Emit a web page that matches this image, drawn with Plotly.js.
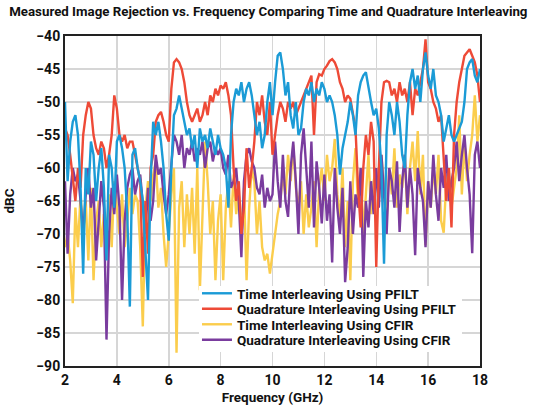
<!DOCTYPE html>
<html>
<head>
<meta charset="utf-8">
<script src="https://cdn.plot.ly/plotly-3.0.1.min.js"></script>
<style>html,body{margin:0;padding:0;background:#fff;}#chart{width:540px;height:408px;}</style>
</head>
<body>
<div id="chart"></div>
<script>
// Frequency axis: 2.0 to 18.0 GHz in 0.1 GHz steps
const freqStart = 2.0;
const freqStep = 0.1;

const timePFILT = [
-50,-62,-56,-53,-52,-55,-63,-76,-60,-64,
-56,-58,-65,-60,-57,-63,-74,-58,-60,-66,
-56,-55,-57,-60,-67,-81,-58,-57,-60,-62,
-65,-72,-80,-62,-53,-55,-53,-56,-60,-67,
-71,-60,-52,-51,-49,-51,-53,-55,-54,-57,
-55,-60,-54,-56,-55,-57,-54,-56,-58,-55,
-57,-58,-60,-66,-55,-50,-48,-49,-47,-50,
-48,-47,-49,-52,-55,-53,-57,-55,-50,-47,
-52,-47,-43,-42.5,-45,-49,-47,-52,-54,-50,
-55,-54,-50,-48,-49,-47,-50,-48,-49,-47,
-48,-50,-49,-50,-52,-55,-61,-57,-55,-53,
-50,-52,-55,-49,-47,-46,-45.5,-48,-50,-52,
-51,-54,-60,-74.5,-55,-50,-52,-55,-50,-53,
-58,-60,-52,-47,-45,-48,-46,-50,-45,-42.5,
-46,-48,-45,-49,-50,-52,-56,-54,-52,-55,
-56,-55,-54,-53,-50,-45,-44,-43.5,-46,-47,
-45];

const quadPFILT = [
-54,-55,-58,-62,-65,-60,-63,-55,-52,-50,
-51,-55,-57,-58,-56,-57,-60,-58,-55,-49,
-51,-55,-56,-55,-57,-56,-56,-58,-60,-62,
-76.5,-65,-73,-60,-58,-53,-52,-51.5,-53,-55,
-56,-48,-44,-43.5,-44,-45,-47,-50,-52,-53,
-52,-51,-53,-52,-50,-52,-49,-50,-48,-49,
-47.5,-48,-47,-49,-52,-60,-65,-62,-70,-66,
-57,-63,-60,-56,-50,-52,-49,-53,-55,-50,
-58,-55,-52,-50,-51,-53,-50,-51,-50,-52,
-51,-50,-49,-48,-47,-46,-55,-47,-45.8,-46,
-45,-44.5,-43.8,-43.5,-44,-45,-47,-48,-50,-49,
-49.5,-52,-54,-63,-69,-60,-55,-58,-53,-56,
-75,-60,-50,-47,-46.8,-47,-49,-48,-50,-47,
-49,-48,-50,-47,-52,-48,-49,-47,-45,-40.5,
-47,-48,-50,-51,-53,-52,-58,-65,-60,-69,
-55,-50,-47,-45,-43,-42.5,-42,-43,-44,-46,
-50];

const timeCFIR = [
-72,-70,-74,-80.5,-66,-72,-64,-70,-65,-74,
-63,-77,-68,-65,-72,-67,-70,-64,-72,-62,
-66,-70,-64,-72,-68,-63,-67,-64,-65,-72,
-84,-66,-62,-65,-61,-59,-66,-63,-70,-75,
-70,-64,-60,-88,-66,-62,-72,-64,-70,-63,
-73,-60,-78.5,-66,-56,-62,-70,-65,-77,-68,
-64,-77,-66,-62,-69,-61,-67,-64,-70,-63,
-77,-66,-60,-62,-70,-65,-72,-74,-73,-76,
-73,-70,-67,-65,-61,-64,-58,-62,-56.5,-63,
-66,-62,-70,-64,-69,-66,-62,-72,-63,-60,
-65,-58,-62,-60,-55.6,-64,-68,-60,-72,-65,
-77,-62,-57,-66,-60,-70,-63,-58,-67,-62,
-60,-65,-58,-63,-68,-60,-64,-57,-66,-61,
-63,-58,-67,-60,-56,-62,-54.4,-64,-58,-71.7,
-62,-66,-60,-64,-58,-68,-69.8,-62,-60,-66,
-63,-60,-52,-64,-56,-62,-58,-55,-49,-56,
-52];

const quadCFIR = [
-62,-73,-64,-60,-62,-61,-65,-70,-64,-60,
-66,-63,-74,-68,-62,-66,-86,-70,-63,-67,
-61,-66,-80,-68,-63,-61,-60,-64,-62,-61,
-66,-70,-63,-68,-65,-58,-61,-60,-64,-67,
-64,-60,-55,-56,-58,-55,-60,-57,-58,-56,
-59,-57,-58,-56,-60,-57,-56,-59,-57,-58,
-57,-60,-61,-58,-63,-62,-60,-65,-73.5,-62,
-58,-57,-59,-60,-63,-64,-61,-66,-63,-65,
-64,-56,-62,-66,-58,-65,-67.4,-60,-56,-62,
-70,-58,-54,-60,-66,-56,-69,-59,-63,-68.4,
-61,-68,-64,-74.3,-60,-66,-70,-63,-77.3,-72,
-62,-70,-64,-66,-60,-76.5,-65,-69,-62,-67,
-60,-66,-58,-64,-70,-60,-62,-66,-59,-69.7,
-62,-58,-66,-60,-64,-73.2,-60,-63,-65,-72,
-62,-66,-58,-64,-68,-60,-63,-58,-65,-62,
-60,-56,-62,-58,-55,-60,-64,-72.9,-58,-56,
-60];

const seriesNames = [
  "Time Interleaving Using PFILT",
  "Quadrature Interleaving Using PFILT",
  "Time Interleaving Using CFIR",
  "Quadrature Interleaving Using CFIR"
];
const xTicks = [2,4,6,8,10,12,14,16,18];
const yTicks = [-90,-85,-80,-75,-70,-65,-60,-55,-50,-45,-40];

const freq = timePFILT.map((_, i) => +(freqStart + i * freqStep).toFixed(2));

const colors = ["#1b9bd6", "#ee4a37", "#fbcd4c", "#7a3c9e"];
const seriesData = [timePFILT, quadPFILT, timeCFIR, quadCFIR];
const drawOrder = [2, 3, 1, 0];
const legendIds = ["legend", "legend2", "legend3", "legend4"];
// legend row centres, in pixels from the top of the plot area
const legendRowPx = [257.5, 273, 288.5, 304];
const plotTop = 36, plotHeight = 330, plotWidth = 415;

const traces = drawOrder.map(k => ({
  type: "scatter",
  mode: "lines",
  x: freq,
  y: seriesData[k],
  name: seriesNames[k],
  legend: legendIds[k],
  line: {color: colors[k], width: 2.4}
}));

const fontFam = "Roboto, 'DejaVu Sans', sans-serif";
const legendFont = {family: fontFam, size: 13.5, color: "#111", weight: "bold"};

const layout = {
  width: 540,
  height: 408,
  margin: {l: 65, r: 60, t: 36, b: 42},
  paper_bgcolor: "#fff",
  plot_bgcolor: "#fff",
  showlegend: true,
  title: {
    text: "<b>Measured Image Rejection vs. Frequency Comparing Time and Quadrature Interleaving</b>",
    font: {family: fontFam, size: 13.3, color: "#111"},
    x: 0.017, xanchor: "left", xref: "container",
    y: 0.972, yanchor: "middle", yref: "container"
  },
  xaxis: {
    range: [2, 18],
    tickvals: xTicks,
    ticktext: xTicks.map(String),
    showgrid: true, gridcolor: "#d6d6d6", gridwidth: 1.5,
    showline: true, linecolor: "#222", linewidth: 2, mirror: true,
    ticks: "", zeroline: false,
    tickfont: {family: fontFam, size: 14, color: "#111", weight: "bold"},
    title: {text: "<b>Frequency (GHz)</b>", font: {family: fontFam, size: 13.5, color: "#111"}, standoff: 6}
  },
  yaxis: {
    range: [-90, -40],
    tickvals: yTicks,
    showgrid: true, gridcolor: "#d6d6d6", gridwidth: 1.5,
    showline: true, linecolor: "#222", linewidth: 2, mirror: true,
    ticks: "", zeroline: false,
    tickfont: {family: fontFam, size: 14, color: "#111", weight: "bold"},
    title: {text: "<b>dBC</b>", font: {family: fontFam, size: 13.5, color: "#111"}, standoff: 19}
  },
  shapes: [{
    type: "rect", xref: "paper", yref: "paper", layer: "above",
    x0: 134 / plotWidth, x1: 397 / plotWidth,
    y0: (plotHeight - 316) / plotHeight, y1: (plotHeight - 250) / plotHeight,
    fillcolor: "#fff", line: {width: 0}
  }]
};

legendIds.forEach((id, k) => {
  layout[id] = {
    x: 0.318, xanchor: "left",
    y: 1 - legendRowPx[k] / plotHeight, yanchor: "middle",
    bgcolor: "rgba(0,0,0,0)", borderwidth: 0,
    font: legendFont, itemwidth: 30
  };
});

Plotly.newPlot("chart", traces, layout, {staticPlot: true, displayModeBar: false});
</script>
</body>
</html>
